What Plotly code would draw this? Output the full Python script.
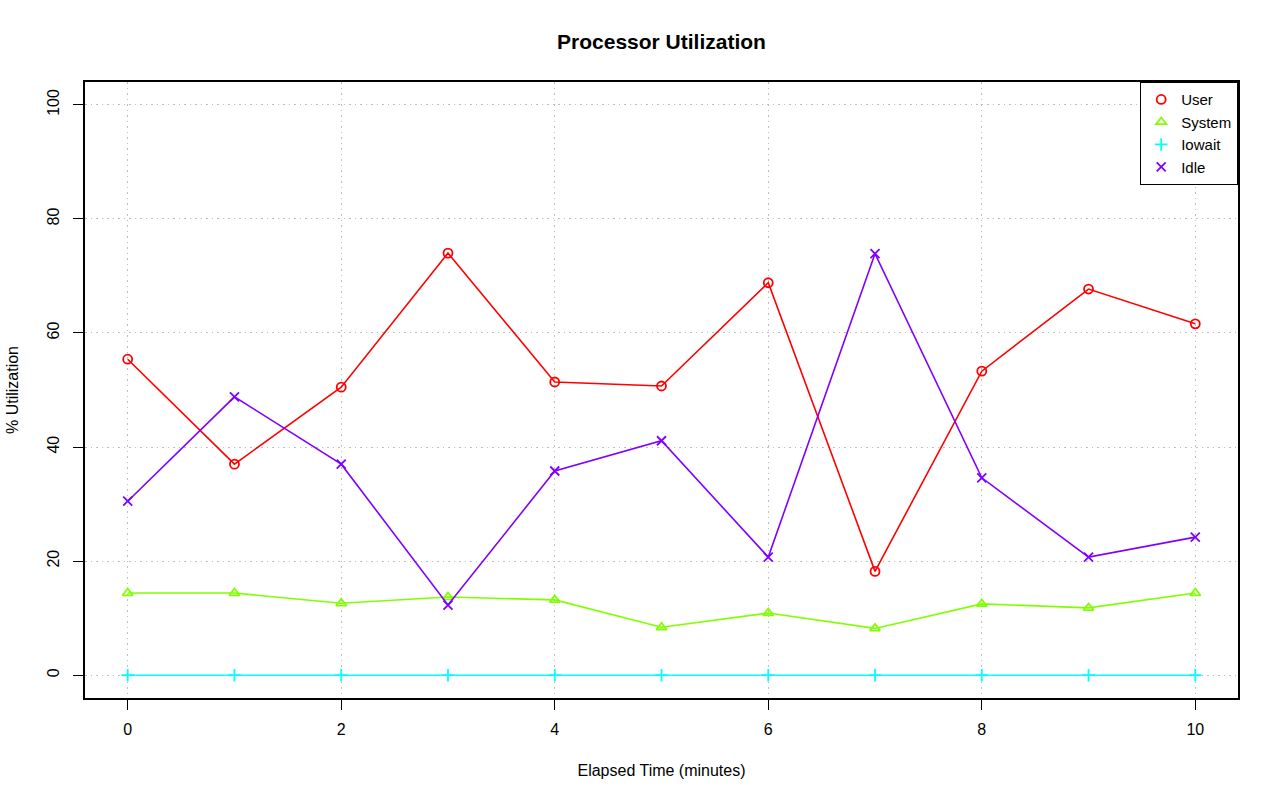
import plotly.graph_objects as go

minutes = [0, 1, 2, 3, 4, 5, 6, 7, 8, 9, 10]
user = [55.4, 37.0, 50.5, 74.0, 51.4, 50.7, 68.8, 18.2, 53.3, 67.7, 61.6]
system = [14.4, 14.4, 12.6, 13.7, 13.2, 8.4, 10.9, 8.2, 12.5, 11.8, 14.4]
iowait = [0, 0, 0, 0, 0, 0, 0, 0, 0, 0, 0]
idle = [30.5, 48.8, 37.0, 12.3, 35.8, 41.1, 20.7, 73.9, 34.6, 20.7, 24.2]

series = [
    ("User", user, "#FF0000", "circle-open"),
    ("System", system, "#80FF00", "triangle-up-open"),
    ("Iowait", iowait, "#00FFFF", "cross-thin-open"),
    ("Idle", idle, "#8000FF", "x-thin-open"),
]

FONT = "Liberation Sans, Arial, Helvetica, sans-serif"

fig = go.Figure()
for name, vals, col, sym in series:
    fig.add_trace(go.Scatter(
        x=minutes, y=vals, mode="lines+markers", name=name, showlegend=False,
        line=dict(color=col, width=1.6),
        marker=dict(symbol=sym, size=9, color=col, line=dict(color=col, width=1.8)),
    ))
for name, vals, col, sym in series:
    fig.add_trace(go.Scatter(
        x=[None], y=[None], mode="markers", name=name,
        marker=dict(symbol=sym, size=9, color=col, line=dict(color=col, width=1.8)),
    ))

axis_common = dict(
    showline=True, mirror=True, linecolor="black", linewidth=1.5,
    ticks="outside", ticklen=10, tickwidth=1.2, tickcolor="black",
    showgrid=True, gridcolor="#BEBEBE", griddash="1.5px,4px", gridwidth=1.2,
    zeroline=False, tickfont=dict(size=16, color="black", family=FONT),
)

fig.update_layout(
    width=1280, height=801,
    paper_bgcolor="white", plot_bgcolor="white",
    margin=dict(l=82, r=42, t=82, b=103),
    font=dict(family=FONT, color="black", size=16),
    title=dict(text="<b>Processor Utilization</b>", x=0.5, xref="paper", xanchor="center",
               y=1 - 42 / 801, yanchor="middle", font=dict(size=21, family=FONT)),
    xaxis=dict(range=[-0.4, 10.4], tickvals=[0, 2, 4, 6, 8, 10],
               title=dict(text="Elapsed Time (minutes)", standoff=28, font=dict(size=16)),
               ticklabelstandoff=6, **axis_common),
    yaxis=dict(range=[-4, 104], tickvals=[0, 20, 40, 60, 80, 100], tickangle=-90,
               title=dict(text="% Utilization", standoff=22, font=dict(size=16)),
               ticklabelstandoff=8, **axis_common),
    legend=dict(x=1, y=1, xanchor="right", yanchor="top", bordercolor="black",
                borderwidth=1.2, bgcolor="white", font=dict(size=15, family=FONT),
                itemwidth=30, tracegroupgap=0),
)

fig.write_html("out.html", config={"displayModeBar": False},
               post_script="document.body.style.margin='0';document.body.style.padding='0';")
